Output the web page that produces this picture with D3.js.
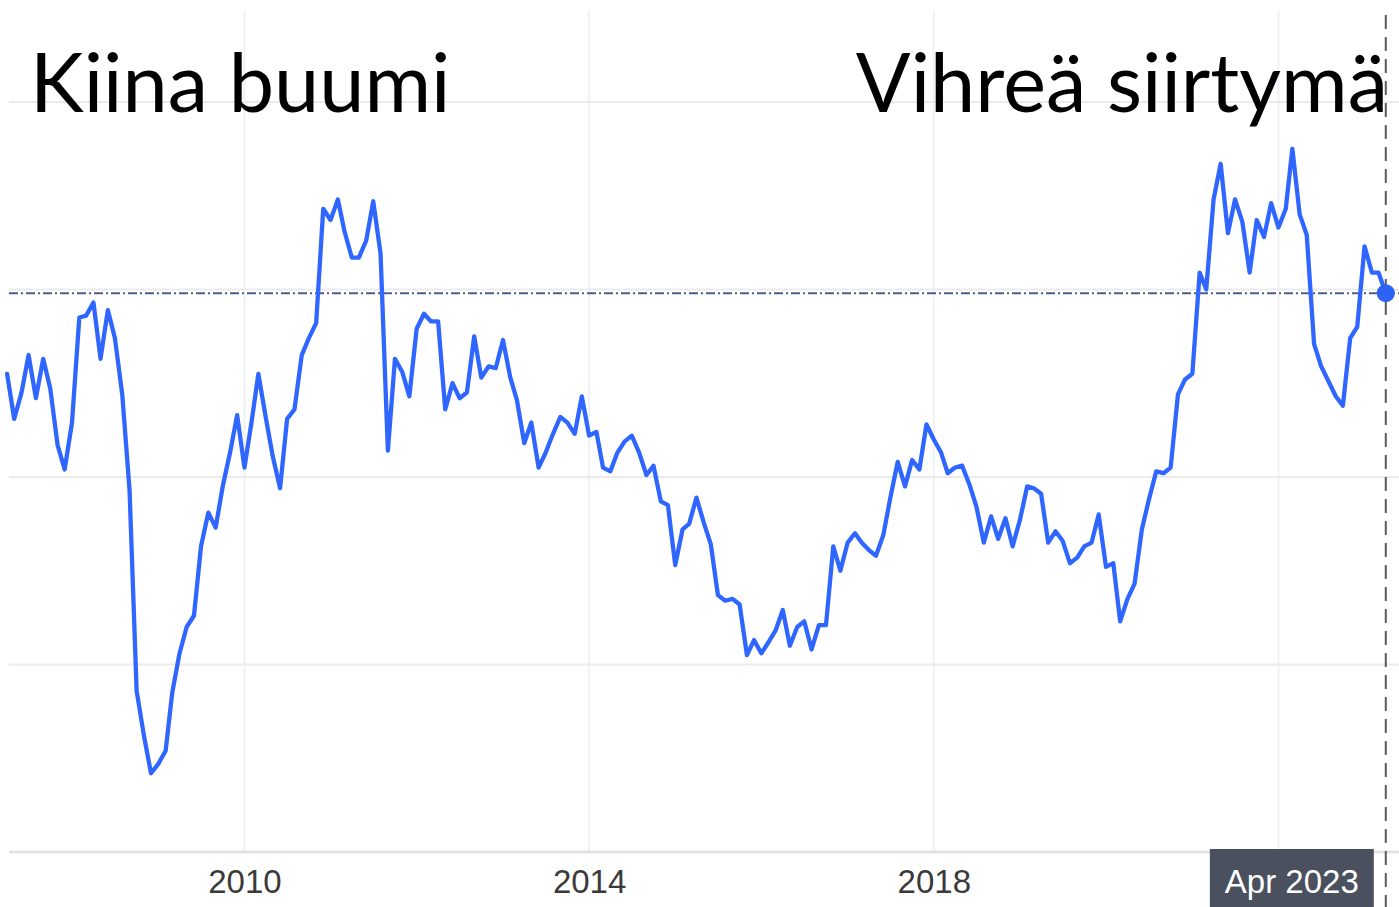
<!DOCTYPE html>
<html>
<head>
<meta charset="utf-8">
<script src="https://cdn.jsdelivr.net/npm/d3@7"></script>
<style>
  body { margin: 0; background: #fff; }
  svg { display: block; }
</style>
</head>
<body>
<svg id="chart" width="1399" height="907"></svg>
<script>
// copper, USD/lb, one value per month from Apr 2007 to Apr 2023
const firstMonth = new Date(2007, 3, 1);
const prices = [
  3.55, 3.31, 3.45, 3.65, 3.42, 3.63, 3.47, 3.17, 3.04, 3.29, 3.85, 3.86,
  3.93, 3.63, 3.89, 3.74, 3.44, 2.93, 1.86, 1.62, 1.42, 1.47, 1.54, 1.85,
  2.06, 2.20, 2.26, 2.63, 2.81, 2.73, 2.95, 3.13, 3.33, 3.05, 3.30, 3.55,
  3.32, 3.11, 2.94, 3.31, 3.36, 3.65, 3.74, 3.82, 4.43, 4.37, 4.48, 4.31,
  4.17, 4.17, 4.26, 4.47, 4.19, 3.14, 3.63, 3.56, 3.43, 3.79, 3.87, 3.83,
  3.83, 3.36, 3.50, 3.42, 3.45, 3.75, 3.53, 3.59, 3.58, 3.73, 3.53, 3.41,
  3.18, 3.29, 3.05, 3.13, 3.23, 3.32, 3.29, 3.23, 3.43, 3.22, 3.24, 3.05,
  3.03, 3.13, 3.19, 3.22, 3.13, 3.01, 3.06, 2.87, 2.85, 2.53, 2.72, 2.75,
  2.89, 2.76, 2.64, 2.37, 2.34, 2.35, 2.32, 2.05, 2.13, 2.06, 2.12, 2.18,
  2.29, 2.10, 2.20, 2.23, 2.08, 2.21, 2.21, 2.63, 2.50, 2.65, 2.70, 2.65,
  2.61, 2.58, 2.69, 2.89, 3.08, 2.95, 3.09, 3.04, 3.28, 3.20, 3.13, 3.02,
  3.05, 3.06, 2.96, 2.84, 2.65, 2.79, 2.67, 2.78, 2.63, 2.77, 2.95, 2.94,
  2.91, 2.65, 2.71, 2.66, 2.54, 2.57, 2.63, 2.65, 2.80, 2.52, 2.54, 2.23,
  2.35, 2.43, 2.72, 2.88, 3.03, 3.02, 3.05, 3.44, 3.52, 3.55, 4.09, 4.00,
  4.48, 4.67, 4.30, 4.48, 4.36, 4.09, 4.37, 4.28, 4.46, 4.33, 4.43, 4.75,
  4.40, 4.29, 3.71, 3.59, 3.51, 3.43, 3.38, 3.74, 3.80, 4.23, 4.09, 4.09,
  3.98
];
const gridValues = [1, 2, 3, 4, 5];
const gridYears = [2010, 2014, 2018, 2022];
const labelYears = [2010, 2014, 2018]; // 2022 sits under the date badge
const leftTitle = "Kiina buumi";
const rightTitle = "Vihreä siirtymä";

const data = prices.map((v, i) => ({ date: d3.timeMonth.offset(firstMonth, i), value: v }));
const last = data[data.length - 1];

const svg = d3.select("#chart");
const width = +svg.attr("width");
const height = +svg.attr("height");
const margin = { top: 10, right: 0, bottom: 55, left: 9 };
const bottomY = height - margin.bottom;

const x = d3.scaleTime()
    .domain([new Date(2007, 3, 9), new Date(2023, 4, 27)])
    .range([margin.left, width - margin.right]);
const y = d3.scaleLinear()
    .domain([1, 5.49])
    .range([bottomY, margin.top]);

// vertical grid
svg.append("g").selectAll("line")
    .data(gridYears)
    .join("line")
    .attr("x1", d => x(new Date(d, 0, 1)))
    .attr("x2", d => x(new Date(d, 0, 1)))
    .attr("y1", margin.top)
    .attr("y2", bottomY)
    .attr("stroke", "#eef2f7")
    .attr("stroke-width", 2);

// horizontal grid
svg.append("g").selectAll("line")
    .data(gridValues)
    .join("line")
    .attr("x1", margin.left)
    .attr("x2", width - margin.right)
    .attr("y1", d => y(d))
    .attr("y2", d => y(d))
    .attr("stroke", d => d === 1 ? "#e2e2e2" : "#ebebeb")
    .attr("stroke-width", d => d === 1 ? 3 : 2);

// x axis labels
const xAxis = d3.axisBottom(x)
    .tickValues(labelYears.map(d => new Date(d, 0, 1)))
    .tickFormat(d3.timeFormat("%Y"))
    .tickSize(0)
    .tickPadding(18);
const ax = svg.append("g")
    .attr("transform", `translate(0,${bottomY})`)
    .call(xAxis);
ax.select(".domain").remove();
ax.selectAll("text")
    .attr("font-family", "'Liberation Sans', Arial, sans-serif")
    .attr("font-size", 33)
    .attr("fill", "#3a3a3a");

// current value reference line
svg.append("line")
    .attr("x1", margin.left)
    .attr("x2", width - margin.right)
    .attr("y1", y(last.value))
    .attr("y2", y(last.value))
    .attr("stroke", "#4f5b8f")
    .attr("stroke-width", 2)
    .attr("stroke-dasharray", "9,3,2,3");

// price line
svg.append("path")
    .datum(data)
    .attr("fill", "none")
    .attr("stroke", "#2f66ff")
    .attr("stroke-width", 4.3)
    .attr("stroke-linejoin", "round")
    .attr("stroke-linecap", "round")
    .attr("d", d3.line().x(d => x(d.date)).y(d => y(d.value)));

// crosshair at latest month
svg.append("line")
    .attr("x1", x(last.date))
    .attr("x2", x(last.date))
    .attr("y1", 15)
    .attr("y2", height)
    .attr("stroke", "#5a5a5a")
    .attr("stroke-width", 2)
    .attr("stroke-dasharray", "14,8");

svg.append("circle")
    .attr("cx", x(last.date))
    .attr("cy", y(last.value))
    .attr("r", 9)
    .attr("fill", "#2d63f5");

// date badge
const badge = svg.append("g");
const badgeText = badge.append("text")
    .attr("font-family", "'Liberation Sans', Arial, sans-serif")
    .attr("font-size", 33)
    .attr("fill", "#fff")
    .attr("text-anchor", "middle")
    .text(d3.timeFormat("%b %Y")(last.date));
const tw = badgeText.node().getComputedTextLength();
const bw = tw + 30;
const bx = x(last.date) - 12 - bw;
badge.insert("rect", "text")
    .attr("x", bx)
    .attr("y", bottomY - 3)
    .attr("width", bw)
    .attr("height", height - bottomY + 3)
    .attr("fill", "#4a505e");
badgeText.attr("x", bx + bw / 2).attr("y", bottomY + 41);

// titles
svg.append("text")
    .attr("x", 30)
    .attr("y", 112)
    .attr("font-family", "Lato, 'Open Sans', sans-serif")
    .attr("font-size", 81)
    .attr("fill", "#000")
    .text(leftTitle);
svg.append("text")
    .attr("x", 1388)
    .attr("y", 112)
    .attr("text-anchor", "end")
    .attr("font-family", "Lato, 'Open Sans', sans-serif")
    .attr("font-size", 81)
    .attr("fill", "#000")
    .text(rightTitle);
</script>
</body>
</html>
